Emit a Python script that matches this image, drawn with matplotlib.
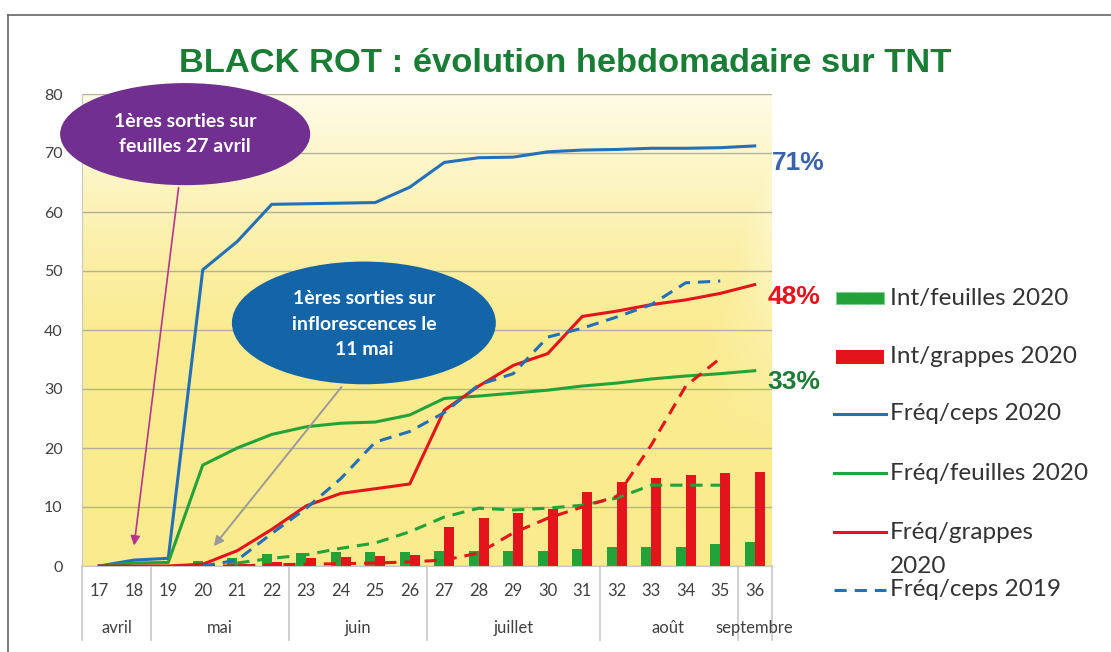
import numpy as np
import matplotlib
matplotlib.use('Agg')
import matplotlib.pyplot as plt
from matplotlib.patches import Ellipse, Rectangle
from matplotlib.lines import Line2D

nan = np.nan
weeks = ['17', '18', '19', '20', '21', '22', '23', '24', '25', '26',
         '27', '28', '29', '30', '31', '32', '33', '34', '35', '36']
months = ['avril', 'mai', 'juin', 'juillet', 'août', 'septembre']
month_len = [2, 4, 4, 5, 4, 1]

int_feuilles_2020 = [0, 0, 0, 0.8, 1.3, 2.1, 2.2, 2.4, 2.3, 2.3,
                     2.5, 2.5, 2.6, 2.6, 2.8, 3.2, 3.2, 3.2, 3.7, 4.1]
int_grappes_2020 = [0, 0, 0, 0.1, 0.3, 0.7, 1.4, 1.5, 1.7, 1.8,
                    6.6, 8.1, 9.0, 9.6, 12.5, 14.2, 14.9, 15.4, 15.7, 16.0]
freq_ceps_2020 = [0, 1.0, 1.3, 50.2, 55, 61.3, 61.4, 61.5, 61.6, 64.2,
                  68.4, 69.2, 69.3, 70.2, 70.5, 70.6, 70.8, 70.8, 70.9, 71.2]
freq_feuilles_2020 = [0, 0.5, 0.6, 17.1, 20, 22.3, 23.6, 24.2, 24.4, 25.6,
                      28.4, 28.8, 29.3, 29.8, 30.5, 31, 31.7, 32.2, 32.6, 33.1]
freq_grappes_2020 = [0, 0, 0, 0.3, 2.6, 6.2, 10.2, 12.3, 13.1, 13.9,
                     26.4, 30.5, 34, 36, 42.3, 43.2, 44.3, 45.1, 46.2, 47.7]
freq_ceps_2019 = [nan, nan, nan, 0, 1, 5.5, 9.8, 14.8, 21, 22.8,
                  26, 30.7, 32.6, 38.8, 40.3, 42.2, 44.3, 48, 48.3, nan]
freq_feuilles_2019 = [nan, nan, nan, nan, 0.5, 1.3, 1.9, 3, 3.9, 5.8,
                      8.3, 9.8, 9.5, 9.8, 10.3, 11.5, 13.7, 13.7, 13.7, nan]
freq_grappes_2019 = [nan, nan, nan, 0, 0, 0.2, 0.3, 0.4, 0.5, 0.7,
                     1, 2.2, 5.6, 8.1, 10, 11.8, 20.5, 30.5, 35.2, nan]

BLUE = '#2470b8'
GREEN = '#22a238'
RED = '#e3141b'
TXT = '#404040'

plt.rcParams['font.family'] = ['Lato', 'DejaVu Sans']

W, H = 1111, 652
fig = plt.figure(figsize=(W / 100, H / 100), dpi=100)
ax = fig.add_axes([82 / W, (H - 566) / H, 690 / W, 472 / H])

x = np.arange(len(weeks))
ax.set_xlim(-0.5, len(weeks) - 0.5)
ax.set_ylim(0, 80)

# fond jaune degrade
ny, nx = 200, 200
yy, xx = np.mgrid[0:1:ny * 1j, 0:1:nx * 1j]
t = np.clip((yy - 0.45) / 0.55, 0, 1) ** 1.3 * 0.9
tx = np.clip((xx - 0.9) / 0.1, 0, 1) * np.clip((yy - 0.25) / 0.5, 0, 1) * 0.6
t = np.maximum(t, tx)
base = np.array([250, 235, 142]) / 255
top = np.array([255, 253, 240]) / 255
img = base[None, None, :] * (1 - t[..., None]) + top[None, None, :] * t[..., None]
ax.imshow(img, extent=(-0.5, len(weeks) - 0.5, 0, 80), origin='lower',
          aspect='auto', zorder=0)

ax.set_yticks(range(0, 81, 10))
ax.grid(axis='y', color='#b4b09a', lw=1)
ax.set_axisbelow(True)
for s in ['top', 'right']:
    ax.spines[s].set_visible(False)
ax.spines['left'].set_color('#c8c8c8')
ax.spines['bottom'].set_color('#c8c8c8')
ax.tick_params(axis='y', length=0, pad=14, labelsize=11.5, labelcolor=TXT)
ax.set_xticks(x)
ax.set_xticklabels(weeks)
ax.tick_params(axis='x', length=0, pad=12, labelsize=12, labelcolor=TXT)

# barres
bw = 0.29
ax.bar(x - bw / 2, int_feuilles_2020, bw, color=GREEN, zorder=2)
ax.bar(x + bw / 2, int_grappes_2020, bw, color=RED, zorder=2)

# courbes
ax.plot(x, freq_ceps_2020, color=BLUE, lw=2.2, zorder=3)
ax.plot(x, freq_feuilles_2020, color=GREEN, lw=2.2, zorder=3)
ax.plot(x, freq_grappes_2020, color=RED, lw=2.2, zorder=3)
dash = (0, (4, 2.6))
ax.plot(x, freq_feuilles_2019, color=GREEN, lw=2.2, ls=dash, zorder=3)
ax.plot(x, freq_grappes_2019, color=RED, lw=2.2, ls=dash, zorder=3)
ax.plot(x, freq_ceps_2019, color=BLUE, lw=2.2, ls=dash, zorder=3)

# mois sous l'axe
xt = ax.get_xaxis_transform()
start = -0.5
for m, n in zip(months, month_len):
    ax.plot([start, start], [0, -0.157], transform=xt, color='#c8c8c8',
            lw=1.2, clip_on=False)
    ax.text(start + n / 2, -0.131, m, transform=xt, ha='center', va='center',
            fontsize=12, color=TXT)
    start += n
ax.plot([start, start], [0, -0.157], transform=xt, color='#c8c8c8',
        lw=1.2, clip_on=False)

# pourcentages finaux
last = len(weeks) - 1
pct = dict(textcoords='offset points', ha='left', va='center', fontsize=19,
           fontweight='bold', family=['Liberation Sans', 'DejaVu Sans'])
ax.annotate('71%', (last, freq_ceps_2020[-1]), xytext=(12, -12),
            color='#3b62ad', **pct)
ax.annotate('48%', (last, freq_grappes_2020[-1]), xytext=(9, -9),
            color='#e8141b', **pct)
ax.annotate('33%', (last, freq_feuilles_2020[-1]), xytext=(9, -8),
            color='#1e7b34', **pct)

# bulles + fleches
ax.annotate('', xy=(1.0, 3.0), xytext=(2.31, 64.6),
            arrowprops=dict(arrowstyle='-|>', color='#b5358f', lw=1.2,
                            mutation_scale=14), zorder=4)
ax.annotate('', xy=(3.27, 3.0), xytext=(7.07, 30.7),
            arrowprops=dict(arrowstyle='-|>', color='#9a9a9a', lw=1.4,
                            mutation_scale=14), zorder=4)
e1 = Ellipse((2.49, 73.2), 7.25, 17.3, facecolor='#71308f', edgecolor='none',
             clip_on=False, zorder=5)
ax.add_patch(e1)
ax.text(2.49, 73.2, '1ères sorties sur\nfeuilles 27 avril', ha='center',
        va='center', color='white', fontsize=14, fontweight='bold',
        linespacing=1.6, zorder=6)
e2 = Ellipse((7.67, 41.2), 7.65, 20.8, facecolor='#1464a8', edgecolor='none',
             clip_on=False, zorder=5)
ax.add_patch(e2)
ax.text(7.67, 41.0, '1ères sorties sur\ninflorescences le\n11 mai',
        ha='center', va='center', color='white', fontsize=14,
        fontweight='bold', linespacing=1.6, zorder=6)

# titre
fig.text(565 / W, 1 - 63 / H, 'BLACK ROT : évolution hebdomadaire sur TNT',
         ha='center', va='center', fontsize=24.8, fontweight='bold',
         color='#1a7d35', family=['Liberation Sans', 'DejaVu Sans'])

# legende
leg_labels = ['Int/feuilles 2020', 'Int/grappes 2020', 'Fréq/ceps 2020',
              'Fréq/feuilles 2020', 'Fréq/grappes\n2020', 'Fréq/ceps 2019']
leg_y = [298, 357, 414, 473, 532, 590]
for i, (lab, py) in enumerate(zip(leg_labels, leg_y)):
    fy = 1 - py / H
    if i == 0:
        fig.add_artist(Rectangle((836 / W, fy - 6 / H), 48 / W, 12 / H,
                                 facecolor=GREEN, edgecolor='#7fcf8a',
                                 ls='--', lw=0.8, transform=fig.transFigure))
    elif i == 1:
        fig.add_artist(Rectangle((836 / W, fy - 7 / H), 48 / W, 14 / H,
                                 facecolor=RED, edgecolor='none',
                                 transform=fig.transFigure))
    else:
        col = [BLUE, GREEN, RED, BLUE][i - 2]
        ls = dash if i == 5 else '-'
        fig.add_artist(Line2D([834 / W, 886 / W], [fy, fy], color=col,
                              lw=2.2, ls=ls, transform=fig.transFigure))
    if '\n' in lab:
        fig.text(890 / W, fy + 10 / H, lab, ha='left', va='top', fontsize=17.5,
                 color='#333333', linespacing=1.75)
    else:
        fig.text(890 / W, fy, lab, ha='left', va='center', fontsize=17.5,
                 color='#333333')

# cadre
fig.add_artist(Line2D([8 / W, 1], [1 - 15 / H, 1 - 15 / H], color='#666666',
                      lw=1.2, transform=fig.transFigure))
fig.add_artist(Line2D([8 / W, 8 / W], [0, 1 - 15 / H], color='#666666',
                      lw=1.2, transform=fig.transFigure))

fig.savefig('out.png', dpi=100)
